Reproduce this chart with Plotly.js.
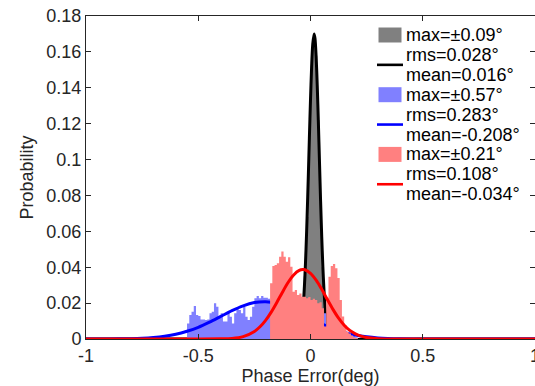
<!DOCTYPE html>
<html><head><meta charset="utf-8">
<script src="https://cdn.plot.ly/plotly-3.0.1.min.js"></script>
<style>html,body{margin:0;padding:0;background:#fff;}#chart{width:535px;height:386px;}</style>
</head><body><div id="chart"></div>
<script>
// ---------- data ----------
const BIN_WIDTH = 0.01;

const greyCenters = [-0.045,-0.035,-0.025,-0.015,-0.005,0.005,0.015,0.025,0.035,0.045,0.055,0.065,0.075,0.085];
const greyProb    = [0.004,0.015,0.035,0.068,0.115,0.150,0.166,0.158,0.122,0.078,0.040,0.018,0.006,0.002];

const blueCenters = [-0.545,-0.535,-0.525,-0.515,-0.505,-0.495,-0.485,-0.475,-0.465,-0.455,
  -0.445,-0.435,-0.425,-0.415,-0.405,-0.395,-0.385,-0.375,-0.365,-0.355,
  -0.345,-0.335,-0.325,-0.315,-0.305,-0.295,-0.285,-0.275,-0.265,-0.255,
  -0.245,-0.235,-0.225,-0.215,-0.205,-0.195,-0.185,-0.175,-0.165,-0.155,
  -0.145,-0.135,-0.125,-0.115,-0.105,-0.095,-0.085,-0.075,-0.065,-0.055,
  -0.045,-0.035,-0.025,-0.015,-0.005,0.005,0.015,0.025,0.035,0.045,
  0.055,0.065,0.075,0.085,0.095,0.105,0.115,0.125,0.135,0.145,
  0.155,0.165,0.175,0.185,0.195,0.205];
const blueProb = [0.0087,0.0134,0.0152,0.0184,0.0134,0.0128,0.0109,0.0109,0.0106,0.0109,
  0.0143,0.0152,0.0199,0.0180,0.0121,0.0143,0.0097,0.0097,0.0152,0.0124,
  0.0087,0.0143,0.0171,0.0162,0.0143,0.0180,0.0124,0.0106,0.0124,0.0180,
  0.0227,0.0240,0.0227,0.0240,0.0230,0.0230,0.0225,0.020,0.022,0.019,
  0.021,0.018,0.020,0.017,0.019,0.016,0.018,0.015,0.016,0.014,
  0.015,0.012,0.013,0.011,0.012,0.010,0.011,0.009,0.010,0.008,
  0.009,0.0143,0.008,0.007,0.006,0.005,0.005,0.004,0.004,0.003,
  0.003,0.003,0.002,0.002,0.002,0.001];

const redCenters = [-0.175,-0.165,-0.155,-0.145,-0.135,-0.125,-0.115,-0.105,-0.095,-0.085,
  -0.075,-0.065,-0.055,-0.045,-0.035,-0.025,-0.015,-0.005,0.005,0.015,
  0.025,0.035,0.045,0.055,0.065,0.075,0.085,0.095,0.105,0.115,
  0.125,0.135,0.145,0.155,0.165,0.175,0.185,0.195,0.205];
const redProb = [0.0310,0.0407,0.0412,0.0422,0.0459,0.0487,0.0459,0.0431,0.0455,0.0403,
  0.0264,0.0273,0.0245,0.0254,0.0236,0.0236,0.0227,0.0234,0.0218,0.0225,
  0.0218,0.0199,0.0205,0.0171,0.0069,0.0230,0.0347,0.0407,0.0418,0.0394,
  0.0340,0.0218,0.0125,0.0078,0.0041,0.0030,0.0020,0.0010,0.0005];

// fitted curves
const blackFitX = [-1,-0.5,-0.1,-0.06,-0.04,-0.035,-0.03,-0.025,-0.02,-0.015,-0.01,-0.005,0,0.005,0.01,0.016,0.02,0.025,0.03,0.035,0.04,0.045,0.05,0.055,0.06,0.065,0.07,0.08,0.09,0.13,0.5,1];
const blackFitY = [0,0,0,0.0007,0.0088,0.0146,0.0230,0.0347,0.0499,0.0686,0.0897,0.1120,0.1334,0.1517,0.1643,0.1700,0.1675,0.1575,0.1413,0.1209,0.0987,0.0768,0.0570,0.0404,0.0273,0.0176,0.0108,0.0035,0.0010,0,0,0];

const blueFitX = [-1,-0.9,-0.8,-0.75,-0.7,-0.65,-0.6,-0.55,-0.5,-0.45,-0.4,-0.35,-0.3,-0.25,-0.2,-0.15,-0.1,-0.05,0,0.05,0.1,0.15,0.2,0.25,0.3,0.4,0.5,1];
const blueFitY = [0,0.00003,0.0002,0.0004,0.0008,0.0015,0.0026,0.0043,0.0065,0.0094,0.0126,0.0158,0.0185,0.0203,0.0208,0.0199,0.0178,0.0148,0.0116,0.0084,0.0057,0.0037,0.0022,0.0012,0.0006,0.0001,0,0];

const redFitX = [-1,-0.5,-0.4,-0.35,-0.3,-0.25,-0.225,-0.2,-0.175,-0.15,-0.125,-0.1,-0.075,-0.05,-0.034,-0.025,0,0.025,0.05,0.075,0.1,0.125,0.15,0.175,0.2,0.225,0.25,0.3,0.4,1];
const redFitY = [0,0,0.00007,0.0003,0.0013,0.0042,0.0068,0.0104,0.0150,0.0204,0.0261,0.0315,0.0357,0.0382,0.0387,0.0386,0.0366,0.0328,0.0277,0.0220,0.0165,0.0116,0.0077,0.0048,0.0029,0.0016,0.0008,0.0002,0,0];

const legendLabels = [
  ['max=±0.09°'], ['rms=0.028°','mean=0.016°'],
  ['max=±0.57°'], ['rms=0.283°','mean=-0.208°'],
  ['max=±0.21°'], ['rms=0.108°','mean=-0.034°']
];

const xTickVals = [-1,-0.5,0,0.5,1];
const xTickText = ['-1','-0.5','0','0.5','1'];
const yTickVals = [0,0.02,0.04,0.06,0.08,0.1,0.12,0.14,0.16,0.18];
const yTickText = ['0','0.02','0.04','0.06','0.08','0.1','0.12','0.14','0.16','0.18'];

// ---------- build ----------
function stepTrace(centers, probs, color){
  const x = centers.map(c => c - BIN_WIDTH/2);
  const y = probs.slice();
  x.push(centers[centers.length-1] + BIN_WIDTH/2);
  y.push(probs[probs.length-1]);
  return {type:'scatter', mode:'lines', x, y, line:{shape:'hv', width:0, color}, fill:'tozeroy', fillcolor:color, hoverinfo:'skip', showlegend:false};
}
function fitTrace(x, y, color){
  return {type:'scatter', mode:'lines', x, y, line:{shape:'spline', smoothing:0.8, width:3, color}, showlegend:false};
}

const C = {grey:'#808080', black:'#000000', blue:'#8080ff', blueL:'#0000ff', red:'#ff8080', redL:'#ff0000'};

const traces = [
  stepTrace(greyCenters, greyProb, C.grey),
  fitTrace(blackFitX, blackFitY, C.black),
  stepTrace(blueCenters, blueProb, C.blue),
  fitTrace(blueFitX, blueFitY, C.blueL),
  stepTrace(redCenters, redProb, C.red),
  fitTrace(redFitX, redFitY, C.redL)
];

// custom legend (MATLAB style, no box)
const L = 86, T = 16, PW = 449, PH = 323;
const px = v => (v - L) / PW;
const py = v => (T + PH - v) / PH;
const shapes = [], annotations = [];
const symbolKinds = [['box',C.grey],['line',C.black],['box',C.blue],['line',C.blueL],['box',C.red],['line',C.redL]];
let lineY = 35;
const LINE_STEP = 19.9;
legendLabels.forEach((lines, i) => {
  const [kind, col] = symbolKinds[i];
  const yMid = lineY + (lines.length - 1) * LINE_STEP / 2;
  if (kind === 'box') {
    shapes.push({type:'rect', xref:'paper', yref:'paper', x0:px(378.5), x1:px(401.5), y0:py(yMid-7.5), y1:py(yMid+7.5), fillcolor:col, line:{width:0}});
  } else {
    shapes.push({type:'line', xref:'paper', yref:'paper', x0:px(377), x1:px(403), y0:py(yMid), y1:py(yMid), line:{color:col, width:2.6}});
  }
  lines.forEach(t => {
    annotations.push({xref:'paper', yref:'paper', x:px(404), y:py(lineY), xanchor:'left', yanchor:'middle', text:t, showarrow:false, font:{size:18, color:'#000'}});
    lineY += LINE_STEP;
  });
});

const axisCommon = {showgrid:false, zeroline:false, showline:true, linecolor:'#262626', linewidth:1, mirror:'ticks', ticks:'inside', ticklen:5, tickcolor:'#262626', tickfont:{size:18, color:'#262626'}};

const layout = {
  width:535, height:386,
  margin:{l:86, r:0, t:16, b:47},
  paper_bgcolor:'#fff', plot_bgcolor:'#fff',
  font:{family:'"Liberation Sans", Arial, Helvetica, sans-serif', size:18, color:'#262626'},
  showlegend:false,
  xaxis: Object.assign({}, axisCommon, {range:[-1,1], tickmode:'array', tickvals:xTickVals, ticktext:xTickText, ticklabeloverflow:'allow', title:{text:'Phase Error(deg)', font:{size:18, color:'#262626'}, standoff:0}}),
  yaxis: Object.assign({}, axisCommon, {range:[0,0.18], tickmode:'array', tickvals:yTickVals, ticktext:yTickText, title:{text:'Probability', font:{size:18, color:'#262626'}, standoff:8}}),
  shapes, annotations
};

Plotly.newPlot('chart', traces, layout, {displayModeBar:false, staticPlot:true});
</script>
</body></html>
